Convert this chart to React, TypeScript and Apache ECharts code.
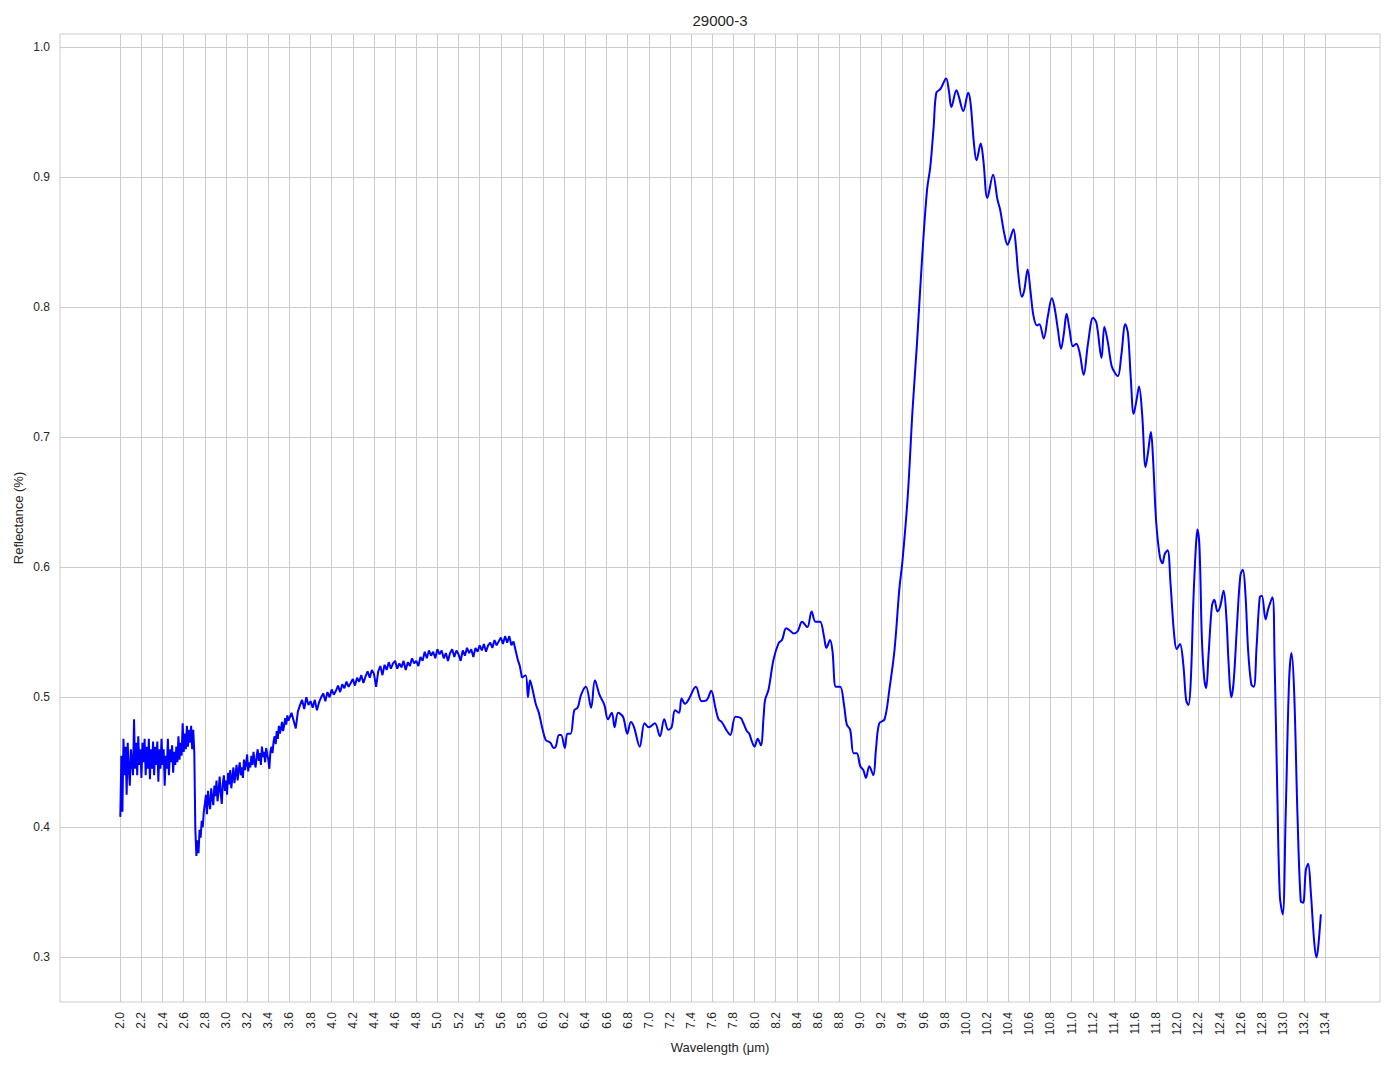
import React, { useEffect, useRef } from "react";
import * as echarts from "echarts";

const TITLE = "29000-3";
const X_NAME = "Wavelength (μm)";
const Y_NAME = "Reflectance (%)";

// x tick labels: 2.0 .. 13.4 step 0.2 ; y tick labels 0.3 .. 1.0 step 0.1
const X_TICK_MIN = 2.0;
const X_TICK_MAX = 13.4;
const X_TICK_STEP = 0.2;
const Y_TICK_MIN = 0.3;
const Y_TICK_MAX = 1.0;
const Y_TICK_STEP = 0.1;

// data range of the plot (matplotlib-like 5% margins)
const X_RANGE = [1.4295, 13.9175];
const Y_RANGE = [0.2656, 1.0102];

// Segment 1: noisy start, wavelengths 2.00 .. 2.79, step 0.01
const seg1Start = 2.0;
const seg1Step = 0.01;
const seg1Values = [
  0.408, 0.455, 0.412, 0.468, 0.440, 0.462, 0.425, 0.465, 0.445, 0.432, // 2.00
  0.460, 0.450, 0.440, 0.483, 0.445, 0.465, 0.440, 0.470, 0.448, 0.460, // 2.10
  0.438, 0.465, 0.450, 0.468, 0.440, 0.462, 0.445, 0.468, 0.437, 0.460, // 2.20
  0.445, 0.466, 0.440, 0.462, 0.448, 0.466, 0.435, 0.460, 0.445, 0.468, // 2.30
  0.448, 0.460, 0.432, 0.455, 0.445, 0.468, 0.440, 0.460, 0.450, 0.463, // 2.40
  0.442, 0.458, 0.448, 0.462, 0.450, 0.470, 0.452, 0.465, 0.455, 0.480, // 2.50
  0.458, 0.472, 0.460, 0.478, 0.462, 0.475, 0.465, 0.478, 0.460, 0.475, // 2.60
  0.458, 0.398, 0.378, 0.390, 0.380, 0.398, 0.392, 0.405, 0.400, 0.412, // 2.70
];

// Segment 2: noisy rise, wavelengths 2.80 .. 3.59, step 0.01
const seg2Start = 2.8;
const seg2Step = 0.01;
const seg2Values = [
  0.418, 0.425, 0.410, 0.428, 0.419, 0.414, 0.430, 0.422, 0.417, 0.432, // 2.80
  0.424, 0.436, 0.420, 0.428, 0.439, 0.426, 0.418, 0.434, 0.440, 0.428, // 2.90
  0.436, 0.425, 0.442, 0.433, 0.444, 0.430, 0.438, 0.446, 0.434, 0.441, // 3.00
  0.448, 0.436, 0.444, 0.450, 0.440, 0.446, 0.438, 0.452, 0.444, 0.449, // 3.10
  0.456, 0.443, 0.450, 0.446, 0.455, 0.448, 0.458, 0.450, 0.446, 0.455, // 3.20
  0.460, 0.451, 0.457, 0.448, 0.462, 0.454, 0.458, 0.450, 0.461, 0.456, // 3.30
  0.452, 0.445, 0.458, 0.462, 0.457, 0.466, 0.470, 0.464, 0.474, 0.468, // 3.40
  0.478, 0.472, 0.476, 0.481, 0.474, 0.478, 0.484, 0.479, 0.486, 0.482, // 3.50
];

// Segment 3: noisy plateau, wavelengths 3.60 .. 5.80, step 0.02
const seg3Start = 3.6;
const seg3Step = 0.02;
const seg3Values = [
  0.484, 0.488, 0.482, 0.476, 0.489, 0.494, 0.498, 0.491, 0.500, 0.494, // 3.60
  0.497, 0.492, 0.498, 0.490, 0.496, 0.500, 0.503, 0.497, 0.504, 0.500, // 3.80
  0.506, 0.502, 0.505, 0.509, 0.504, 0.510, 0.507, 0.512, 0.508, 0.511, // 4.00
  0.514, 0.509, 0.515, 0.512, 0.517, 0.511, 0.516, 0.520, 0.515, 0.521, // 4.20
  0.518, 0.508, 0.520, 0.524, 0.517, 0.525, 0.521, 0.527, 0.522, 0.526, // 4.40
  0.528, 0.522, 0.526, 0.523, 0.528, 0.521, 0.527, 0.524, 0.530, 0.526, // 4.60
  0.528, 0.524, 0.531, 0.528, 0.535, 0.530, 0.536, 0.532, 0.535, 0.530, // 4.80
  0.537, 0.533, 0.536, 0.530, 0.534, 0.528, 0.534, 0.537, 0.531, 0.536, // 5.00
  0.533, 0.528, 0.536, 0.532, 0.538, 0.534, 0.537, 0.531, 0.538, 0.535, // 5.20
  0.540, 0.536, 0.541, 0.535, 0.540, 0.542, 0.538, 0.544, 0.540, 0.543, // 5.40
  0.546, 0.541, 0.547, 0.542, 0.547, 0.540, 0.543, 0.536, 0.529, 0.524, // 5.60
  0.515, // 5.80
];

// Segment 4: smoother part, [wavelength, reflectance]
const seg4Points: [number, number][] = [
  [5.8, 0.515], [5.835, 0.517], [5.857, 0.5], [5.876, 0.513], [5.9, 0.506],
  [5.93, 0.495], [5.96, 0.488], [5.99, 0.477], [6.025, 0.467], [6.05, 0.466],
  [6.07, 0.465], [6.1, 0.461], [6.12, 0.462], [6.15, 0.471], [6.17, 0.471],
  [6.205, 0.461], [6.23, 0.472], [6.26, 0.472], [6.295, 0.49], [6.327, 0.492],
  [6.36, 0.502], [6.405, 0.508], [6.454, 0.492], [6.49, 0.513], [6.533, 0.502],
  [6.58, 0.494], [6.613, 0.483], [6.65, 0.488], [6.676, 0.477], [6.71, 0.488],
  [6.756, 0.485], [6.797, 0.472], [6.83, 0.481], [6.86, 0.477], [6.914, 0.462],
  [6.96, 0.48], [7.0, 0.477], [7.057, 0.48], [7.105, 0.47], [7.146, 0.483],
  [7.184, 0.475], [7.216, 0.477], [7.248, 0.49], [7.286, 0.488], [7.31, 0.499],
  [7.343, 0.495], [7.375, 0.498], [7.445, 0.508], [7.5, 0.497], [7.55, 0.498],
  [7.59, 0.505], [7.63, 0.492], [7.66, 0.483], [7.69, 0.481], [7.74, 0.474],
  [7.77, 0.471], [7.82, 0.485], [7.87, 0.484], [7.895, 0.48], [7.927, 0.474],
  [7.95, 0.472], [7.975, 0.466], [8.0, 0.462], [8.03, 0.468], [8.06, 0.463],
  [8.086, 0.485], [8.1, 0.498], [8.133, 0.506], [8.18, 0.529], [8.23, 0.542],
  [8.26, 0.544], [8.3, 0.553], [8.34, 0.551], [8.37, 0.549], [8.41, 0.551],
  [8.45, 0.558], [8.5, 0.554], [8.54, 0.566], [8.578, 0.558], [8.62, 0.558],
  [8.657, 0.547], [8.68, 0.538], [8.714, 0.544], [8.737, 0.536], [8.77, 0.508],
  [8.81, 0.508], [8.847, 0.494], [8.873, 0.479], [8.905, 0.475], [8.937, 0.457],
  [8.968, 0.457], [9.0, 0.447], [9.03, 0.444], [9.054, 0.438], [9.086, 0.447],
  [9.124, 0.44], [9.149, 0.46], [9.18, 0.48], [9.23, 0.483], [9.276, 0.506],
  [9.324, 0.536], [9.37, 0.583], [9.4, 0.605], [9.45, 0.655], [9.495, 0.721],
  [9.537, 0.772], [9.584, 0.836], [9.632, 0.89], [9.663, 0.908], [9.695, 0.939],
  [9.72, 0.965], [9.76, 0.968], [9.813, 0.976], [9.838, 0.967], [9.863, 0.954],
  [9.91, 0.967], [9.933, 0.962], [9.975, 0.951], [10.022, 0.965], [10.044, 0.957],
  [10.076, 0.926], [10.1, 0.913], [10.14, 0.926], [10.165, 0.913], [10.203, 0.884],
  [10.257, 0.902], [10.298, 0.883], [10.324, 0.875], [10.362, 0.857], [10.394, 0.848],
  [10.419, 0.853], [10.45, 0.86], [10.473, 0.847], [10.495, 0.826], [10.53, 0.808],
  [10.552, 0.813], [10.584, 0.829], [10.61, 0.813], [10.64, 0.793], [10.673, 0.786],
  [10.695, 0.787], [10.736, 0.776], [10.775, 0.793], [10.813, 0.807], [10.838, 0.8],
  [10.87, 0.783], [10.9, 0.768], [10.927, 0.78], [10.952, 0.795], [10.98, 0.783],
  [11.013, 0.77], [11.044, 0.772], [11.076, 0.765], [11.114, 0.748], [11.155, 0.772],
  [11.203, 0.792], [11.235, 0.788], [11.283, 0.761], [11.31, 0.785], [11.343, 0.773],
  [11.378, 0.755], [11.406, 0.75], [11.438, 0.747], [11.47, 0.763], [11.508, 0.787],
  [11.533, 0.78], [11.56, 0.745], [11.587, 0.718], [11.613, 0.728], [11.638, 0.739],
  [11.667, 0.718], [11.7, 0.677], [11.724, 0.689], [11.75, 0.704], [11.77, 0.684],
  [11.8, 0.635], [11.835, 0.608], [11.86, 0.603], [11.88, 0.61], [11.908, 0.613],
  [11.936, 0.587], [11.968, 0.55], [11.994, 0.537], [12.025, 0.541], [12.057, 0.525],
  [12.083, 0.498], [12.105, 0.494], [12.127, 0.512], [12.152, 0.574], [12.175, 0.615],
  [12.19, 0.629], [12.21, 0.615], [12.232, 0.546], [12.254, 0.515], [12.273, 0.507],
  [12.295, 0.532], [12.327, 0.57], [12.35, 0.575], [12.38, 0.566], [12.406, 0.57],
  [12.438, 0.582], [12.463, 0.563], [12.486, 0.525], [12.51, 0.5], [12.533, 0.512],
  [12.565, 0.556], [12.597, 0.594], [12.62, 0.598], [12.644, 0.58], [12.67, 0.536],
  [12.7, 0.51], [12.724, 0.508], [12.75, 0.539], [12.78, 0.577], [12.8, 0.578],
  [12.835, 0.56], [12.86, 0.568], [12.9, 0.577], [12.92, 0.529], [12.946, 0.426],
  [12.97, 0.347], [12.997, 0.333], [13.025, 0.409], [13.057, 0.512], [13.08, 0.534],
  [13.105, 0.505], [13.137, 0.409], [13.168, 0.343], [13.19, 0.342], [13.216, 0.367],
  [13.238, 0.372], [13.263, 0.35], [13.295, 0.312], [13.317, 0.3], [13.333, 0.308],
  [13.358, 0.333],
];

const FONT = "'Liberation Sans', Arial, sans-serif";
const TEXT_COLOR = "#262626";
const GRID_COLOR = "#cccccc";
const LINE_COLOR = "#0000ff";

function gridSeries(start: number, step: number, values: number[]): [number, number][] {
  return values.map((v, i) => [Math.round((start + step * i) * 1000) / 1000, v]);
}

export default function App() {
  const ref = useRef<HTMLDivElement>(null);

  useEffect(() => {
    if (!ref.current) return;
    const chart = echarts.init(ref.current, undefined, { renderer: "svg" });

    const noisy = [
      ...gridSeries(seg1Start, seg1Step, seg1Values),
      ...gridSeries(seg2Start, seg2Step, seg2Values),
      ...gridSeries(seg3Start, seg3Step, seg3Values),
    ];

    // plot area in pixels
    const left = 60, top = 34, width = 1320, height = 968;
    const xPx = (v: number) => left + ((v - X_RANGE[0]) / (X_RANGE[1] - X_RANGE[0])) * width;
    const yPx = (v: number) => top + ((Y_RANGE[1] - v) / (Y_RANGE[1] - Y_RANGE[0])) * height;
    const gx0 = xPx(X_TICK_MIN), gx1 = xPx(X_TICK_MAX);
    const gy0 = yPx(Y_TICK_MAX), gy1 = yPx(Y_TICK_MIN);

    chart.setOption({
      animation: false,
      backgroundColor: "#ffffff",
      textStyle: { fontFamily: FONT, color: TEXT_COLOR },
      graphic: [
        {
          type: "text",
          x: left + width / 2,
          y: 20,
          style: {
            text: TITLE,
            fill: TEXT_COLOR,
            font: `15px ${FONT}`,
            textAlign: "center",
            textVerticalAlign: "middle",
          },
        },
      ],
      grid: [
        { left, top, width, height, show: true, borderColor: GRID_COLOR, borderWidth: 1, backgroundColor: "transparent", z: 3 },
        { left: gx0, top, width: gx1 - gx0, height, show: false },
        { left, top: gy0, width, height: gy1 - gy0, show: false },
      ],
      xAxis: [
        {
          gridIndex: 0,
          type: "value",
          min: X_RANGE[0],
          max: X_RANGE[1],
          axisLabel: { show: false },
          axisLine: { show: false },
          axisTick: { show: false },
          splitLine: { show: false },
          name: X_NAME,
          nameLocation: "middle",
          nameGap: 39,
          nameTextStyle: { fontSize: 13, color: TEXT_COLOR, fontFamily: FONT },
        },
        {
          gridIndex: 1,
          type: "value",
          min: X_TICK_MIN,
          max: X_TICK_MAX,
          interval: X_TICK_STEP,
          axisLine: { show: false },
          axisTick: { show: false },
          splitLine: { show: true, lineStyle: { color: GRID_COLOR, width: 1 } },
          axisLabel: {
            rotate: 90,
            margin: 10,
            fontSize: 12,
            color: TEXT_COLOR,
            fontFamily: FONT,
            showMinLabel: true,
            showMaxLabel: true,
            formatter: (v: number) => v.toFixed(1),
          },
        },
        { gridIndex: 2, type: "value", show: false, min: 0, max: 1 },
      ],
      yAxis: [
        {
          gridIndex: 0,
          type: "value",
          min: Y_RANGE[0],
          max: Y_RANGE[1],
          axisLabel: { show: false },
          axisLine: { show: false },
          axisTick: { show: false },
          splitLine: { show: false },
          name: Y_NAME,
          nameLocation: "middle",
          nameGap: 35,
          nameRotate: 90,
          nameTextStyle: { fontSize: 13, color: TEXT_COLOR, fontFamily: FONT },
        },
        { gridIndex: 1, type: "value", show: false, min: 0, max: 1 },
        {
          gridIndex: 2,
          type: "value",
          min: Y_TICK_MIN,
          max: Y_TICK_MAX,
          interval: Y_TICK_STEP,
          axisLine: { show: false },
          axisTick: { show: false },
          splitLine: { show: true, lineStyle: { color: GRID_COLOR, width: 1 } },
          axisLabel: {
            margin: 10,
            fontSize: 12,
            color: TEXT_COLOR,
            fontFamily: FONT,
            showMinLabel: true,
            showMaxLabel: true,
            formatter: (v: number) => v.toFixed(1),
          },
        },
      ],
      series: [
        {
          type: "line",
          xAxisIndex: 0,
          yAxisIndex: 0,
          data: noisy,
          showSymbol: false,
          symbol: "none",
          lineStyle: { color: LINE_COLOR, width: 2 },
          z: 5,
        },
        {
          type: "line",
          xAxisIndex: 0,
          yAxisIndex: 0,
          data: seg4Points,
          showSymbol: false,
          symbol: "none",
          smooth: 0.35,
          lineStyle: { color: LINE_COLOR, width: 2 },
          z: 5,
        },
      ],
    });

    return () => chart.dispose();
  }, []);

  return (
    <div
      ref={ref}
      style={{ position: "absolute", left: 0, top: 0, width: 1394, height: 1069 }}
    />
  );
}
